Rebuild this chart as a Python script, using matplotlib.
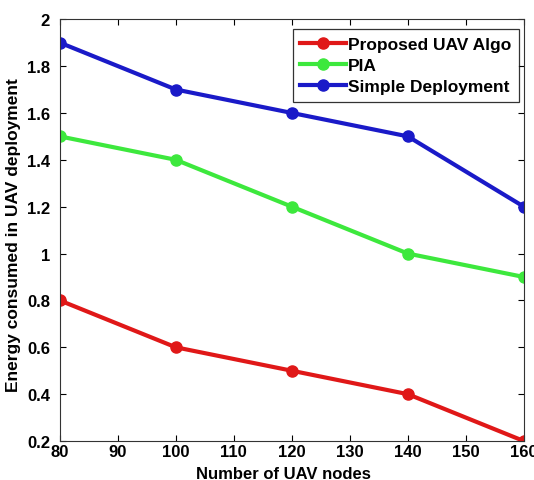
import matplotlib
matplotlib.use("Agg")
import matplotlib.pyplot as plt
from matplotlib.ticker import FuncFormatter

nodes = [80, 100, 120, 140, 160]
proposed = [0.8, 0.6, 0.5, 0.4, 0.2]
pia = [1.5, 1.4, 1.2, 1.0, 0.9]
simple = [1.9, 1.7, 1.6, 1.5, 1.2]
labels = ["Proposed UAV Algo", "PIA", "Simple Deployment"]

plt.rcParams['font.family'] = ['Liberation Sans', 'DejaVu Sans']
plt.rcParams['font.weight'] = 'bold'

fig = plt.figure(figsize=(5.34, 4.81), dpi=100)
ax = fig.add_axes([0.112, 0.081, 0.869, 0.877])

ax.plot(nodes, proposed, '-o', color='#e01818', lw=3.0, ms=8, label=labels[0])
ax.plot(nodes, pia, '-o', color='#3de83d', lw=3.0, ms=8, label=labels[1])
ax.plot(nodes, simple, '-o', color='#1a1ac8', lw=3.0, ms=8, label=labels[2])

ax.set_xlim(80, 160)
ax.set_ylim(0.2, 2.0)
ax.set_xticks(range(80, 161, 10))
ax.set_yticks([0.2, 0.4, 0.6, 0.8, 1.0, 1.2, 1.4, 1.6, 1.8, 2.0])
ax.yaxis.set_major_formatter(FuncFormatter(lambda v, p: ('%g' % round(v, 2))))
ax.tick_params(direction='in', top=True, right=True, labelsize=12, length=4)
ax.tick_params(axis='y', pad=7)
ax.tick_params(axis='x', pad=2)
for s in ax.spines.values():
    s.set_linewidth(0.8)
    s.set_color('#333333')

ax.set_xlabel("Number of UAV nodes", fontsize=12, fontweight='bold')
ax.set_ylabel("Energy consumed in UAV deployment", fontsize=12.5, fontweight='bold')
ax.xaxis.set_label_coords(0.482, -0.06, transform=ax.transAxes)
ax.yaxis.set_label_coords(-0.084, 0.49, transform=ax.transAxes)

leg = ax.legend(loc='upper right', bbox_to_anchor=(0.989, 0.976), fontsize=12.5,
                frameon=True, fancybox=False, edgecolor='black',
                handlelength=2.6, borderaxespad=0.0, handletextpad=0.12,
                labelspacing=0.33, borderpad=0.45)
leg.get_frame().set_linewidth(0.9)

fig.savefig("out.png", dpi=100)
